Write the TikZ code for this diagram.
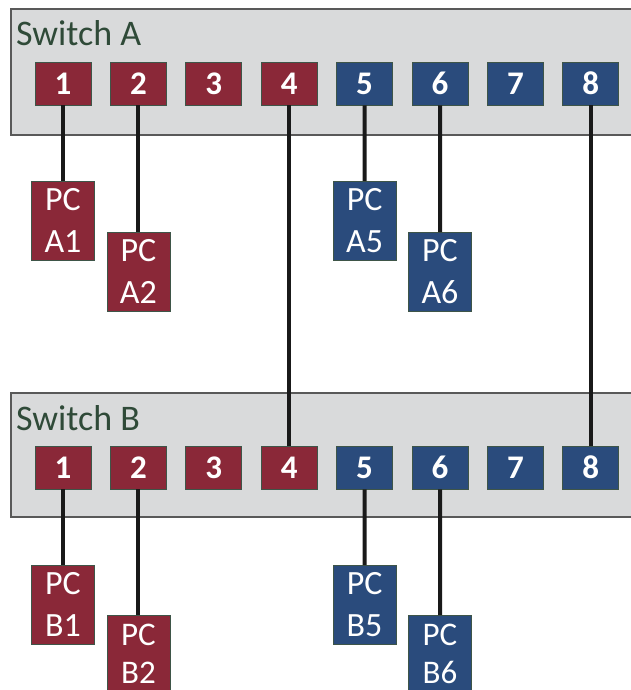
\documentclass[tikz,border=0pt]{standalone}
\usepackage{fontspec}
\setmainfont{Carlito}
\definecolor{portred}{HTML}{8A2838}
\definecolor{portblue}{HTML}{2A4B7C}
\definecolor{swgray}{HTML}{D9DADB}
\definecolor{swtext}{HTML}{2F4A38}
\definecolor{boxedge}{HTML}{3E5548}
\begin{document}
\begin{tikzpicture}[x=1pt,y=-1pt,
  switchbox/.style={draw=black!65,line width=1.5pt,fill=swgray},
  swlabel/.style={anchor=base west,text=swtext,font=\fontsize{36}{40}\selectfont,inner sep=0pt},
  port/.style={draw=boxedge,line width=0.8pt,minimum width=56pt,minimum height=43pt,inner sep=0pt,text=white,font=\bfseries\fontsize{33}{36}\selectfont},
  pc/.style={draw=boxedge,line width=0.8pt,minimum width=63pt,minimum height=79pt,inner sep=0pt,text=white,align=center,font=\fontsize{34}{42}\selectfont},
  pclow/.style={pc,font=\fontsize{33}{38}\selectfont,text depth=3pt},
  red/.style={fill=portred},
  blue/.style={fill=portblue},
  cable/.style={draw=black!90,line width=4pt}]
\useasboundingbox (0,0) rectangle (631,690);
\clip (0,0) rectangle (631,690);
% switches
\path[switchbox] (11,9) rectangle (645,135);
\path[switchbox] (11,393) rectangle (645,517);
\node[swlabel] (swA) at (16,46) {Switch A};
\node[swlabel] (swB) at (16,430) {Switch B};
% ports
\foreach \i/\c in {1/red,2/red,3/red,4/red,5/blue,6/blue,7/blue,8/blue}{
  \node[port,\c] (a\i) at ({63+75.4*(\i-1)},83.5) {\i};
  \node[port,\c] (b\i) at ({63+75.4*(\i-1)},467.5) {\i};
}
% PCs
\node[pc,red,anchor=north] (pcA1) at (63,181) {PC\\A1};
\node[pc,red,anchor=north] (pcA2) at (138.4,232) {PC\\A2};
\node[pc,blue,anchor=north] (pcA5) at (364.6,181) {PC\\A5};
\node[pc,blue,anchor=north] (pcA6) at (440,232) {PC\\A6};
\node[pc,red,anchor=north] (pcB1) at (63,565) {PC\\B1};
\node[pclow,red,anchor=north] (pcB2) at (138.4,615) {PC\\B2};
\node[pc,blue,anchor=north] (pcB5) at (364.6,565) {PC\\B5};
\node[pclow,blue,anchor=north] (pcB6) at (440,615) {PC\\B6};
% cables
\draw[cable] (a1.south) -- (pcA1.north);
\draw[cable] (a2.south) -- (pcA2.north);
\draw[cable] (a5.south) -- (pcA5.north);
\draw[cable] (a6.south) -- (pcA6.north);
\draw[cable] (b1.south) -- (pcB1.north);
\draw[cable] (b2.south) -- (pcB2.north);
\draw[cable] (b5.south) -- (pcB5.north);
\draw[cable] (b6.south) -- (pcB6.north);
\draw[cable] (a4.south) -- (b4.north);
\draw[cable] (a8.south) -- (b8.north);
\end{tikzpicture}
\end{document}
